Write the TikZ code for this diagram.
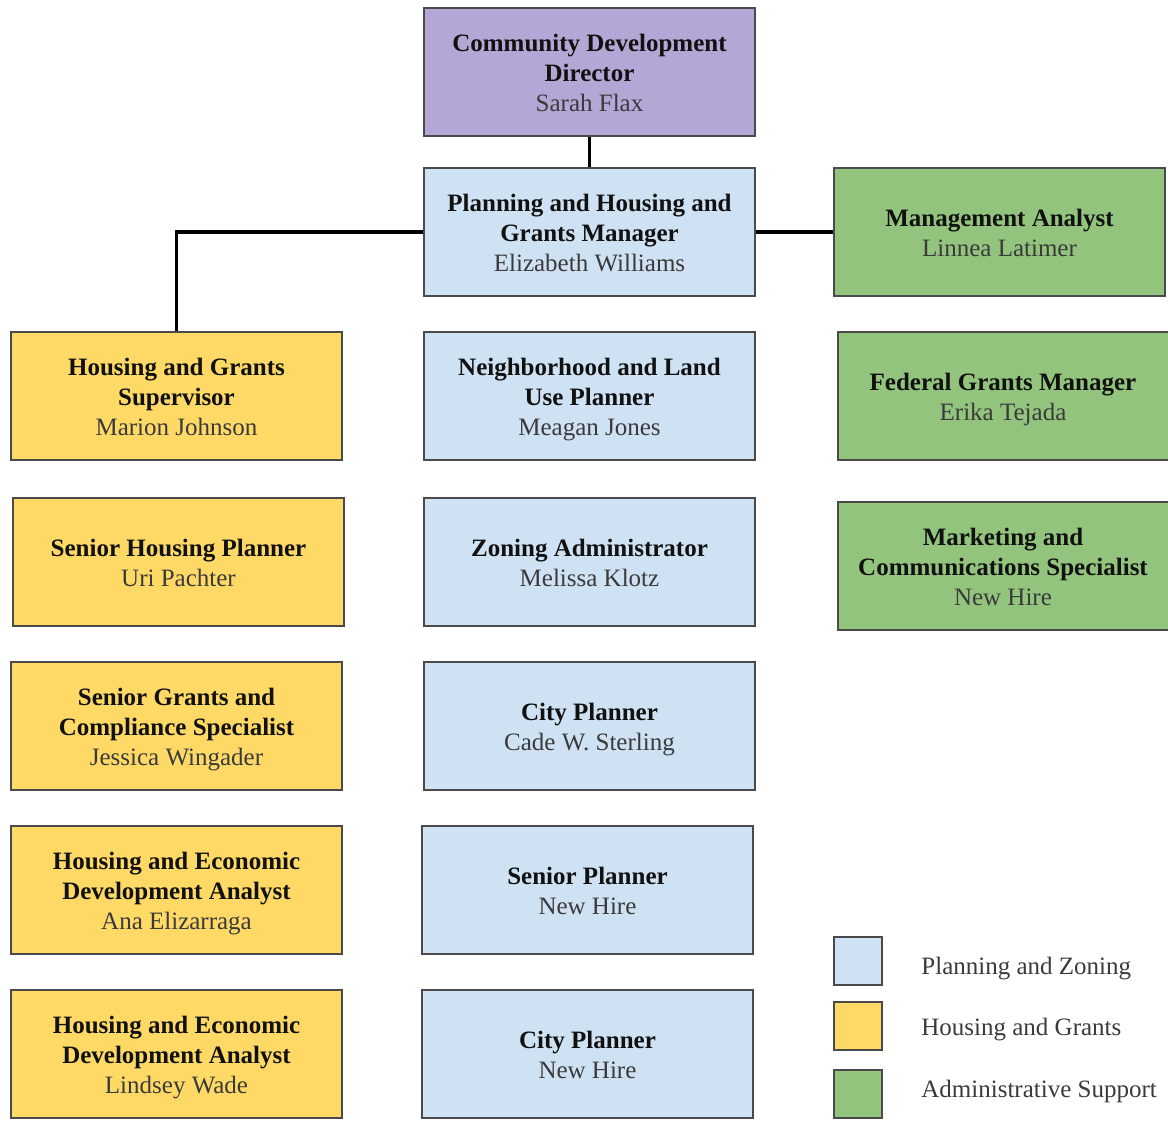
\documentclass[tikz,border=0pt]{standalone}
\usepackage{fontspec}
\setmainfont{Liberation Serif}
\definecolor{cpurple}{HTML}{B4A7D6}
\definecolor{cblue}{HTML}{CFE2F3}
\definecolor{cyellow}{HTML}{FFD966}
\definecolor{cgreen}{HTML}{93C47D}
\definecolor{cborder}{HTML}{4A4A4A}
\definecolor{cname}{HTML}{3A3A3A}
\definecolor{ctitle}{HTML}{111111}
\tikzset{
  box/.style={draw=cborder, line width=1pt, fill=#1, minimum width=165.5pt, minimum height=64pt,
    inner sep=2pt, font=\fontsize{12.5pt}{15pt}\selectfont, text=ctitle},
  legsq/.style={draw=cborder, line width=1pt, fill=#1, minimum width=24pt, minimum height=24pt, inner sep=0pt},
  legtxt/.style={anchor=west, inner sep=0pt, font=\fontsize{12.5pt}{15pt}\selectfont, text=cname},
  conn/.style={draw=black, line width=1.8pt},
}
\newcommand{\ttl}[1]{\textbf{#1}}
\newcommand{\nm}[1]{\textcolor{cname}{#1}}
\newcommand{\bx}[1]{\raisebox{-1.8pt}[\height][\depth]{\begin{tabular}{@{}c@{}}#1\end{tabular}}}
\begin{document}
\begin{tikzpicture}[x=0.5pt,y=-0.5pt]
\useasboundingbox (0,0) rectangle (1168,1121);
\node[box=cpurple] (dir) at (589.5,72) {\bx{\ttl{Community Development}\\\ttl{Director}\\\nm{Sarah Flax}}};
\node[box=cblue] (mgr) at (589.5,232) {\bx{\ttl{Planning and Housing and}\\\ttl{Grants Manager}\\\nm{Elizabeth Williams}}};
\node[box=cgreen] (ma) at (999.5,232) {\bx{\ttl{Management Analyst}\\\nm{Linnea Latimer}}};

\node[box=cyellow] (hgs) at (176.5,396) {\bx{\ttl{Housing and Grants}\\\ttl{Supervisor}\\\nm{Marion Johnson}}};
\node[box=cblue] (nlu) at (589.5,396) {\bx{\ttl{Neighborhood and Land}\\\ttl{Use Planner}\\\nm{Meagan Jones}}};
\node[box=cgreen] (fgm) at (1003,396) {\bx{\ttl{Federal Grants Manager}\\\nm{Erika Tejada}}};

\node[box=cyellow] (shp) at (178.5,561.5) {\bx{\ttl{Senior Housing Planner}\\\nm{Uri Pachter}}};
\node[box=cblue] (za) at (589.5,561.5) {\bx{\ttl{Zoning Administrator}\\\nm{Melissa Klotz}}};
\node[box=cgreen] (mcs) at (1003,566) {\bx{\ttl{Marketing and}\\\ttl{Communications Specialist}\\\nm{New Hire}}};

\node[box=cyellow] (sgc) at (176.5,725.5) {\bx{\ttl{Senior Grants and}\\\ttl{Compliance Specialist}\\\nm{Jessica Wingader}}};
\node[box=cblue] (cp1) at (589.5,725.5) {\bx{\ttl{City Planner}\\\nm{Cade W. Sterling}}};

\node[box=cyellow] (hea1) at (176.5,889.5) {\bx{\ttl{Housing and Economic}\\\ttl{Development Analyst}\\\nm{Ana Elizarraga}}};
\node[box=cblue] (sp) at (587.5,889.5) {\bx{\ttl{Senior Planner}\\\nm{New Hire}}};

\node[box=cyellow] (hea2) at (176.5,1054) {\bx{\ttl{Housing and Economic}\\\ttl{Development Analyst}\\\nm{Lindsey Wade}}};
\node[box=cblue] (cp2) at (587.5,1054) {\bx{\ttl{City Planner}\\\nm{New Hire}}};

% connectors
\draw[conn] (dir.south) -- (mgr.north);
\draw[conn] (mgr.west) -| (hgs.north);
\draw[conn] (mgr.east) -- (ma.west);

% legend
\node[legsq=cblue] (l1) at (858,961) {};
\node[legsq=cyellow] (l2) at (858,1026) {};
\node[legsq=cgreen] (l3) at (858,1094) {};
\node[legtxt] (t1) at (921,969) {Planning and Zoning};
\node[legtxt] (t2) at (921,1030) {Housing and Grants};
\node[legtxt] (t3) at (921,1091) {Administrative Support};
\end{tikzpicture}
\end{document}
